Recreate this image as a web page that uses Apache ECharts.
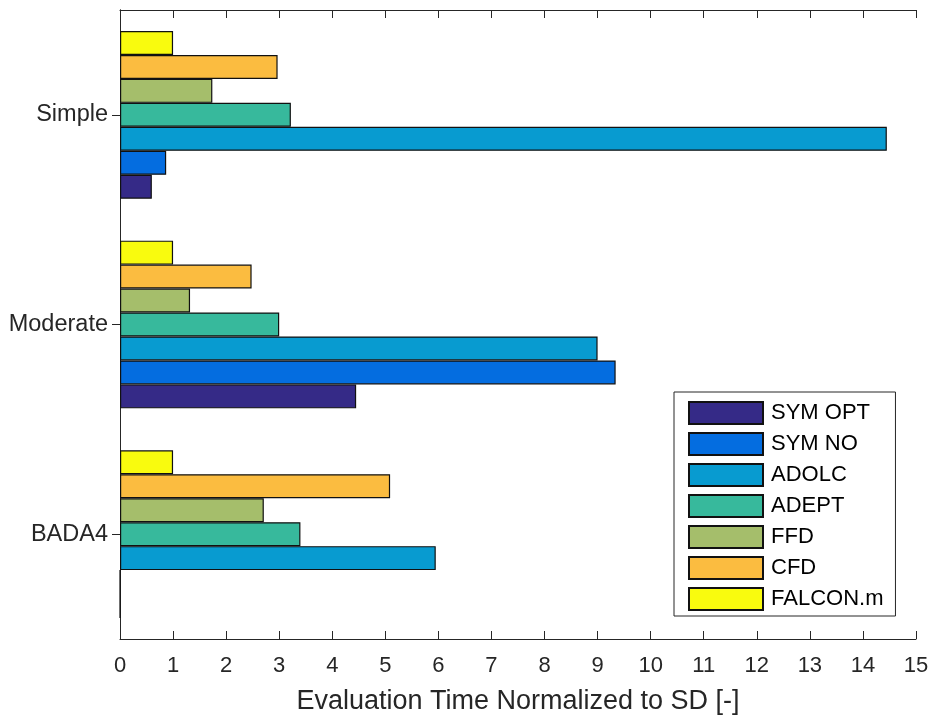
<!DOCTYPE html>
<html>
<head>
<meta charset="utf-8">
<script src="https://cdn.jsdelivr.net/npm/echarts@6/dist/echarts.min.js"></script>
<style>
  html, body { margin: 0; padding: 0; background: #fff; }
  #chart { width: 933px; height: 720px; }
</style>
</head>
<body>
<div id="chart"></div>
<script>
// Problem cases, listed bottom to top along the category axis
const categories = ['BADA4', 'Moderate', 'Simple'];

// Evaluation time of each method, normalized to SD (order: BADA4, Moderate, Simple)
const symOpt   = [0,    4.45, 0.60];
const symNo    = [0,    9.34, 0.87];
const adolc    = [5.95, 9.00, 14.45];
const adept    = [3.40, 3.00, 3.22];
const ffd      = [2.71, 1.32, 1.74];
const cfd      = [5.09, 2.48, 2.97];
const falconM  = [1.00, 1.00, 1.00];

const seriesNames  = ['SYM OPT', 'SYM NO', 'ADOLC', 'ADEPT', 'FFD', 'CFD', 'FALCON.m'];
const seriesValues = [symOpt, symNo, adolc, adept, ffd, cfd, falconM];
const seriesColors = ['#352A87', '#046DE0', '#089BD0', '#37B99C', '#A5BE6B', '#FBBC40', '#F9FB0E'];

const xTicks = [0, 1, 2, 3, 4, 5, 6, 7, 8, 9, 10, 11, 12, 13, 14, 15];

const FONT = 'Liberation Sans, Arial, Helvetica, sans-serif';
const AXIS_COLOR = '#262626';

const chart = echarts.init(document.getElementById('chart'), null, { renderer: 'canvas' });

// ECharts stacks bars of a horizontal group from the top down, so the series
// are added last-first to put SYM OPT at the bottom of each group.
const series = seriesNames.map((name, i) => ({
  name: name,
  type: 'bar',
  data: seriesValues[i],
  barGap: '0%',
  barCategoryGap: '20%',
  itemStyle: { color: seriesColors[i], borderColor: '#111', borderWidth: 1.2 },
  emphasis: { disabled: true }
})).reverse();

chart.setOption({
  animation: false,
  backgroundColor: '#fff',
  textStyle: { fontFamily: FONT },
  grid: { left: 120, right: 17, top: 10, bottom: 81, containLabel: false },
  legend: {
    orient: 'vertical',
    left: 674,
    top: 392,
    padding: [9, 12, 5, 14],
    itemWidth: 74,
    itemHeight: 22,
    itemGap: 7,
    icon: 'rect',
    borderColor: AXIS_COLOR,
    borderWidth: 1,
    backgroundColor: '#fff',
    selectedMode: false,
    data: seriesNames,
    textStyle: { fontSize: 22, color: '#000', fontFamily: FONT, padding: [0, 0, 0, 3] }
  },
  xAxis: [
    {
      type: 'value',
      position: 'bottom',
      min: xTicks[0],
      max: xTicks[xTicks.length - 1],
      interval: 1,
      name: 'Evaluation Time Normalized to SD [-]',
      nameLocation: 'middle',
      nameGap: 49,
      nameTextStyle: { fontSize: 27, color: AXIS_COLOR, fontFamily: FONT, verticalAlign: 'top' },
      axisLine: { show: true, lineStyle: { color: AXIS_COLOR, width: 1 } },
      axisTick: { show: true, inside: true, length: 8, lineStyle: { color: AXIS_COLOR } },
      axisLabel: { fontSize: 22, color: AXIS_COLOR, margin: 16, fontFamily: FONT },
      splitLine: { show: false }
    },
    {
      type: 'value',
      position: 'top',
      min: xTicks[0],
      max: xTicks[xTicks.length - 1],
      interval: 1,
      axisLine: { show: true, lineStyle: { color: AXIS_COLOR, width: 1 } },
      axisTick: { show: true, inside: true, length: 8, lineStyle: { color: AXIS_COLOR } },
      axisLabel: { show: false },
      splitLine: { show: false }
    }
  ],
  yAxis: [
    {
      type: 'category',
      position: 'left',
      data: categories,
      axisLine: { show: true, lineStyle: { color: AXIS_COLOR, width: 1 } },
      axisTick: { show: true, inside: true, length: 8, alignWithLabel: true, lineStyle: { color: AXIS_COLOR } },
      axisLabel: { fontSize: 23.5, color: AXIS_COLOR, margin: 12, fontFamily: FONT, padding: [4, 0, 0, 0] }
    },
    {
      type: 'category',
      position: 'right',
      data: categories,
      axisLine: { show: true, lineStyle: { color: AXIS_COLOR, width: 1 } },
      axisTick: { show: true, inside: true, length: 8, alignWithLabel: true, lineStyle: { color: AXIS_COLOR } },
      axisLabel: { show: false }
    }
  ],
  series: series
});
</script>
</body>
</html>
